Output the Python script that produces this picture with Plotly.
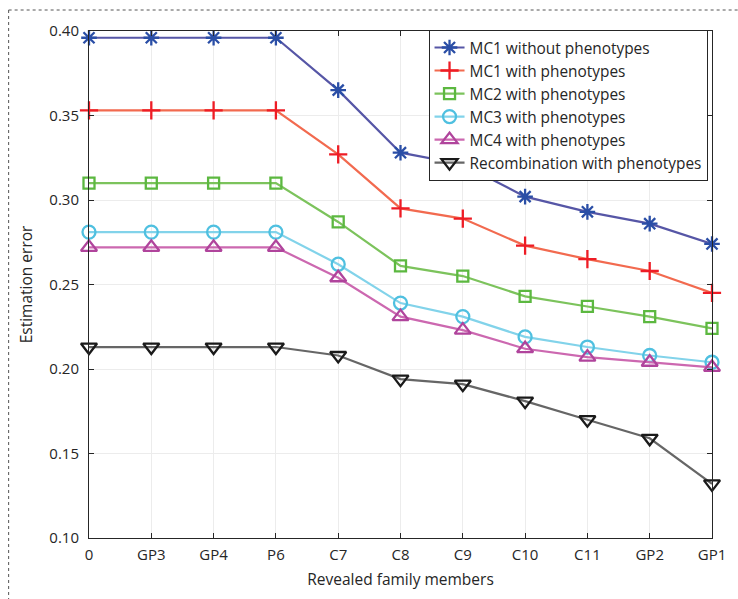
import plotly.graph_objects as go

categories = ["0", "GP3", "GP4", "P6", "C7", "C8", "C9", "C10", "C11", "GP2", "GP1"]

mc1_without = [0.396, 0.396, 0.396, 0.396, 0.365, 0.328, 0.321, 0.302, 0.293, 0.286, 0.274]
mc1_with = [0.353, 0.353, 0.353, 0.353, 0.327, 0.295, 0.289, 0.273, 0.265, 0.258, 0.245]
mc2_with = [0.310, 0.310, 0.310, 0.310, 0.287, 0.261, 0.255, 0.243, 0.237, 0.231, 0.224]
mc3_with = [0.281, 0.281, 0.281, 0.281, 0.262, 0.239, 0.231, 0.219, 0.213, 0.208, 0.204]
mc4_with = [0.272, 0.272, 0.272, 0.272, 0.254, 0.231, 0.223, 0.212, 0.207, 0.204, 0.201]
recomb_with = [0.213, 0.213, 0.213, 0.213, 0.208, 0.194, 0.191, 0.181, 0.170, 0.159, 0.132]

y_ticks = [0.10, 0.15, 0.20, 0.25, 0.30, 0.35, 0.40]

series_names = [
    "MC1 without phenotypes",
    "MC1 with phenotypes",
    "MC2 with phenotypes",
    "MC3 with phenotypes",
    "MC4 with phenotypes",
    "Recombination with phenotypes",
]
series_values = [mc1_without, mc1_with, mc2_with, mc3_with, mc4_with, recomb_with]
line_colors = ["#5656a6", "#f26a4f", "#7cc35c", "#82d3ea", "#cc68b0", "#666666"]
marker_colors = ["#2a4ea6", "#ee1c25", "#5cb840", "#4fc0e0", "#b0449c", "#1a1a1a"]
marker_symbols = ["asterisk-open", "cross-thin-open", "square-open", "circle-open",
                  "triangle-up-open", "triangle-down-open"]
marker_sizes = [13, 13, 11, 13, 14, 14]

FONT = "Open Sans"
TXT = "#262626"

fig = go.Figure()
for name, vals, lc, mc, sym, sz in zip(series_names, series_values, line_colors,
                                        marker_colors, marker_symbols, marker_sizes):
    fig.add_trace(go.Scatter(
        x=categories, y=vals, name=name, mode="lines+markers",
        line=dict(color=lc, width=2.2),
        marker=dict(symbol=sym, size=sz, color=mc, line=dict(width=2.3, color=mc)),
        cliponaxis=False,
    ))

axis_common = dict(
    showline=True, linecolor=TXT, linewidth=1, mirror="ticks",
    ticks="inside", ticklen=5, tickcolor=TXT, tickwidth=1,
    showgrid=True, gridcolor="#ececec", gridwidth=1, zeroline=False,
    tickfont=dict(family=FONT, size=15, color=TXT),
)

fig.update_layout(
    width=738, height=599,
    margin=dict(l=89, r=22, t=31, b=61),
    paper_bgcolor="white", plot_bgcolor="white",
    font=dict(family=FONT, size=15, color=TXT),
    xaxis=dict(type="category", range=[0, 10], ticklabelstandoff=3,
               title=dict(text="Revealed family members", standoff=11,
                          font=dict(family=FONT, size=15.5, color=TXT)),
               **axis_common),
    yaxis=dict(range=[0.10, 0.40], tickvals=y_ticks, tickformat=".2f",
               ticklabelstandoff=6,
               title=dict(text="Estimation error", standoff=12,
                          font=dict(family=FONT, size=15.5, color=TXT)),
               **axis_common),
    legend=dict(x=0.545, y=1.002, xanchor="left", yanchor="top",
                bgcolor="white", bordercolor=TXT, borderwidth=1,
                font=dict(family=FONT, size=15.4, color=TXT),
                tracegroupgap=0, itemwidth=30),
    showlegend=True,
)

# dotted outer frame (top and left edges visible)
fig.add_shape(type="line", xref="paper", yref="paper",
              x0=-0.129, x1=1.1, y0=1.0414, y1=1.0414,
              line=dict(color="#555555", width=1, dash="dot"))
fig.add_shape(type="line", xref="paper", yref="paper",
              x0=-0.129, x1=-0.129, y0=1.0414, y1=-0.2,
              line=dict(color="#555555", width=1, dash="dot"))

fig.write_html("out.html", config={"displayModeBar": False},
               post_script="document.body.style.margin='0';")
